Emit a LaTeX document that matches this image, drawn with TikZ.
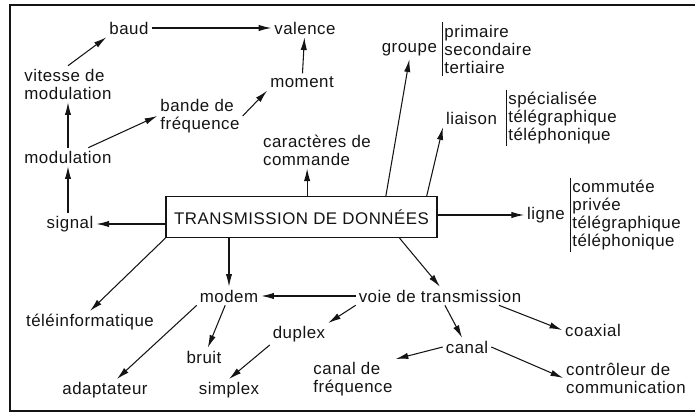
\documentclass[tikz,border=0pt]{standalone}
\usepackage{fontspec}
\setmainfont[LetterSpace=3]{Liberation Sans}
\usepackage{tikz}
\usetikzlibrary{positioning,arrows.meta,calc}
\definecolor{InkBlack}{RGB}{20,20,20}

\begin{document}
\begin{tikzpicture}[x=0.025cm,y=-0.025cm,
		lbl/.style={inner sep=2pt,align=left,font=\fontsize{12}{12.8}\selectfont,text=InkBlack},
		lst/.style={lbl,anchor=west,inner sep=1.5pt},
		arr/.style={InkBlack,line width=0.75pt,-{Latex[length=9pt,width=4.5pt]}},
		box/.style={lbl,draw=InkBlack,line width=0.8pt,minimum width=6.775cm,minimum height=1.025cm}]
			\useasboundingbox (0,0) rectangle (695,413);
			\draw[InkBlack,line width=1.2pt] (695,5)--(10,5)--(10,411)--(695,411);
			% top left part
			\node[lbl] (baud) at (129,28) {baud};
			\node[lbl] (valence) at (305,28) {valence};
			\node[lbl] (vitesse) at (68,84) {vitesse de\\modulation};
			\node[lbl] (moment) at (302,82) {moment};
			\node[lbl] (bande) at (200,116) {bande de\\fréquence};
			\node[lbl] (caract) at (317,150) {caractères de\\commande};
			\node[lbl] (modulation) at (68,157) {modulation};
			\node[lbl] (signal) at (70,224) {signal};
			\node[box] (trans) at (301.5,217) {TRANSMISSION DE DONNÉES};
			% right part, with lists
			\node[lbl,anchor=east] (groupe) at (440,50) {groupe};
			\node[lst] (grplist) at (442,49) {primaire\\secondaire\\tertiaire};
			\node[lbl,anchor=east] (liaison) at (500,118) {liaison};
			\node[lst] (liaisonlist) at (506,118) {spécialisée\\télégraphique\\téléphonique};
			\node[lbl] (ligne) at (546,215) {ligne};
			\node[lst] (lignelist) at (570,215) {commutée\\privée\\télégraphique\\téléphonique};
			\draw[InkBlack,line width=0.7pt] (grplist.north west)--(grplist.south west);
			\draw[InkBlack,line width=0.7pt] (liaisonlist.north west)--(liaisonlist.south west);
			\draw[InkBlack,line width=0.7pt] (lignelist.north west)--(lignelist.south west);
			% bottom part
			\node[lbl] (teleinf) at (90,322) {téléinformatique};
			\node[lbl] (modem) at (229,296) {modem};
			\node[lbl] (voie) at (440,296) {voie de transmission};
			\node[lbl] (bruit) at (204,357) {bruit};
			\node[lbl] (duplex) at (299,334) {duplex};
			\node[lbl] (coaxial) at (593,330) {coaxial};
			\node[lbl] (canal) at (467,347) {canal};
			\node[lbl] (cfreq) at (353,379) {canal de\\fréquence};
			\node[lbl] (ctrl) at (626,378) {contrôleur de\\communication};
			\node[lbl] (adapt) at (105,390) {adaptateur};
			\node[lbl] (simplex) at (229,390) {simplex};
			% connectors
			\draw[arr] (vitesse.north)--(baud.south west);
			\draw[arr] (baud)--(valence);
			\draw[arr] (moment)--(valence);
			\draw[arr] (modulation)--(vitesse);
			\draw[arr] (modulation)--(bande.west);
			\draw[arr] (bande.east)--(moment.south west);
			\draw[arr] ([xshift=4pt]trans.north)--([xshift=4pt]trans.north |- caract.south);
			\draw[arr] (modulation |- signal.north)--(modulation);
			\draw[arr] (trans.west |- signal)--(signal);
			\draw[arr] ($(trans.north west)!0.81!(trans.north east)$)--(groupe.south);
			\draw[arr] ($(trans.north west)!0.96!(trans.north east)$)--(liaison.south west);
			\draw[arr] (trans.east |- ligne)--(ligne);
			\draw[arr] (trans.south west)--(teleinf.north);
			\draw[arr] (trans.south -| modem)--(modem);
			\draw[arr] ($(trans.south west)!0.86!(trans.south east)$)--(voie.north);
			\draw[arr] (voie)--(modem);
			\draw[arr] (voie.south west)--(duplex.north east);
			\draw[arr] (modem.south west)--(adapt);
			\draw[arr] (modem)--(bruit);
			\draw[arr] (duplex.south west)--(simplex.north);
			\draw[arr] (voie)--(canal);
			\draw[arr] ($(voie.south)!0.7!(voie.south east)$)--(coaxial.west);
			\draw[arr] (canal.west)--(cfreq.north east);
			\draw[arr] (canal.east)--(ctrl.west);
		\end{tikzpicture}
\end{document}
